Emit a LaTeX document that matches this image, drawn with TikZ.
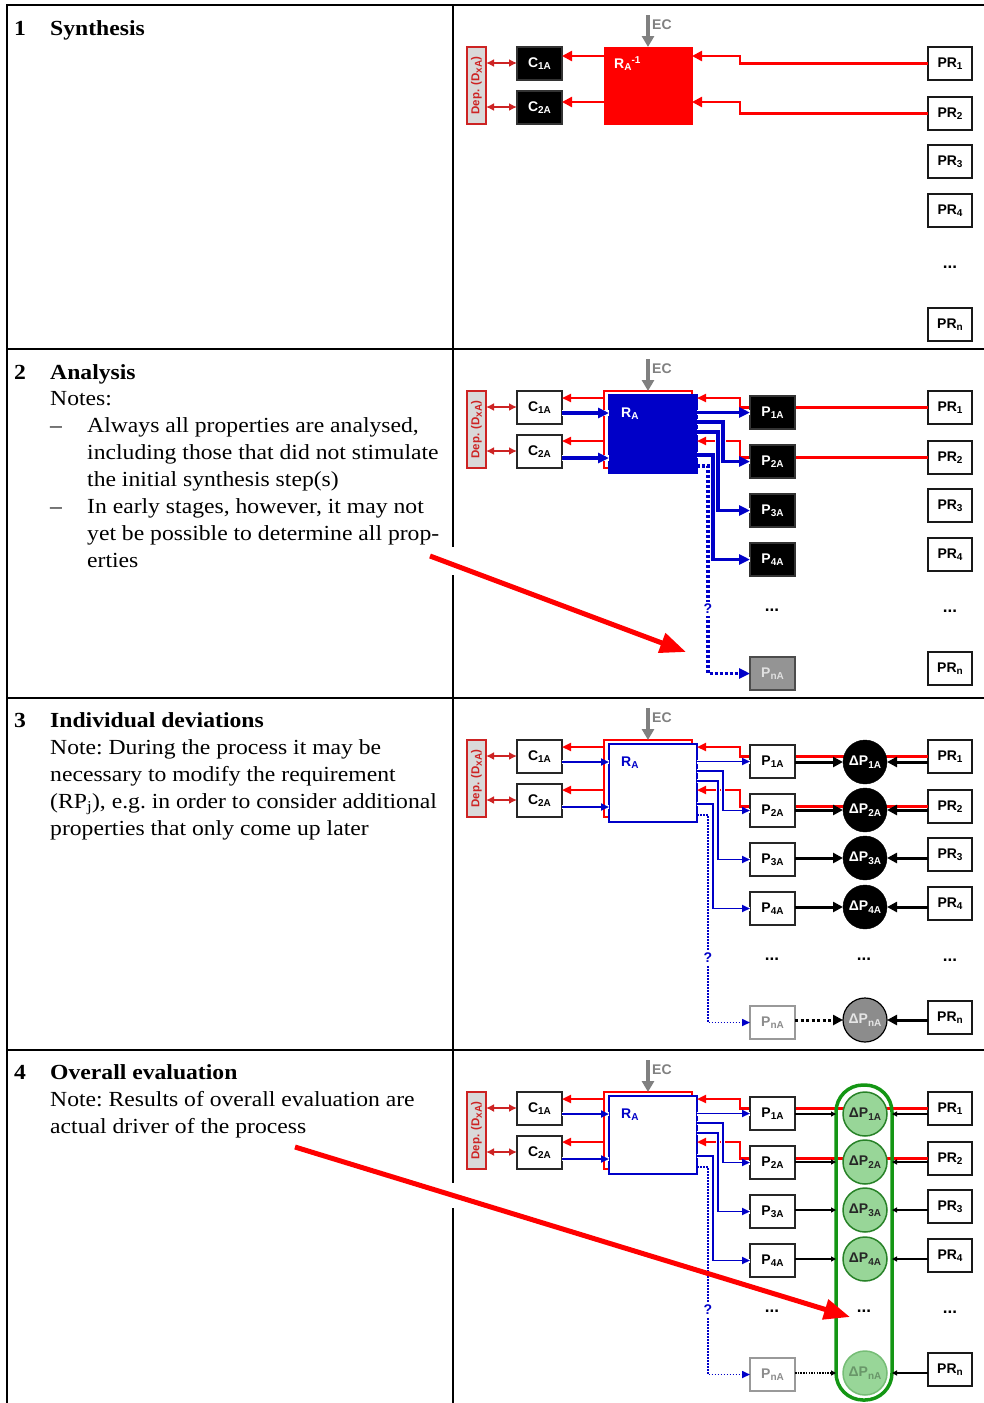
\documentclass[tikz,border=0pt]{standalone}
\usepackage{fontspec}
\setmainfont{Liberation Serif}[FakeStretch=1.1]
\setsansfont{Liberation Sans}
\usetikzlibrary{arrows.meta}
\definecolor{myred}{RGB}{255,0,0}
\definecolor{depred}{RGB}{205,35,35}
\definecolor{myblue}{RGB}{0,0,200}
\definecolor{ecgray}{RGB}{128,128,128}
\definecolor{dgreen}{RGB}{20,150,20}
\definecolor{lgreen}{RGB}{152,214,152}
\definecolor{cgreen}{RGB}{40,130,40}
\definecolor{ngreen}{RGB}{105,150,105}
\newcommand\sbs[1]{\raisebox{-2.5pt}{\fontsize{10}{10}\selectfont #1}}
\newcommand\sps[1]{\raisebox{5pt}{\fontsize{10}{10}\selectfont #1}}
\newcommand\ltxt{\fontsize{21.5}{27}\selectfont\frenchspacing}
\tikzset{
  tbl/.style={line width=2pt, black},
  txt/.style={font=\ltxt, anchor=base west, inner sep=0pt},
  btxt/.style={font=\ltxt\bfseries, anchor=base west, inner sep=0pt},
  lbl/.style={font=\sffamily\bfseries\fontsize{14}{14}\selectfont, inner sep=0pt},
  dots/.style={font=\sffamily\bfseries\fontsize{17}{17}\selectfont, inner sep=0pt},
  boxbase/.style={lbl, rectangle, minimum width=45pt, minimum height=33pt, anchor=north west, line width=1.5pt, outer sep=0pt},
  bkbox/.style={boxbase, fill=black, draw=black!80, text=white},
  whbox/.style={boxbase, fill=white, draw=black!85, text=black},
  grbox/.style={boxbase, fill=black!42, draw=black!70, text=black!12},
  gwbox/.style={boxbase, fill=white, draw=black!40, text=black!45},
  prbox/.style={boxbase, minimum width=44pt, fill=white, draw=black!90},
  depbox/.style={rectangle, anchor=north west, minimum width=19pt, minimum height=77pt, fill=black!15, draw=depred, line width=1.3pt, inner sep=0pt, outer sep=0pt},
  deptxt/.style={rotate=90, text=depred, font=\sffamily\bfseries\fontsize{11.5}{11.5}\selectfont, inner sep=0pt},
  deparr/.style={depred, line width=1.8pt, {Latex[length=8pt,width=8pt]}-{Latex[length=8pt,width=8pt]}},
  ecarr/.style={draw=ecgray, line width=3.2pt, -{Triangle[length=11pt,width=12pt]}},
  ectxt/.style={lbl, text=ecgray, anchor=west},
  redarr/.style={draw=myred, line width=2.4pt, -{Triangle[length=10pt,width=10pt]}},
  redthin/.style={draw=myred, line width=2.1pt, -{Triangle[length=9pt,width=8pt]}},
  bluethick/.style={draw=myblue, line width=3.2pt, -{Triangle[length=11pt,width=10pt]}, preaction={draw=white, line width=5.5pt, -}},
  bluethickdot/.style={draw=myblue, line width=3.2pt, dash pattern=on 3pt off 2pt, -{Triangle[length=11pt,width=10pt]}},
  bluethin/.style={draw=myblue, line width=1.9pt, -{Triangle[length=8pt,width=7pt]}, preaction={draw=white, line width=4pt, -}},
  bluethindot/.style={draw=myblue, line width=1.6pt, dash pattern=on 1.5pt off 1.5pt, -{Triangle[length=8pt,width=7pt]}},
  framebox/.style={rectangle, draw=myred, line width=2pt, minimum width=88pt, minimum height=77pt, outer sep=0pt, anchor=north west},
  rablue/.style={rectangle, fill=myblue, draw=myblue, line width=2pt, minimum width=88pt, minimum height=78pt, outer sep=0pt, anchor=north west},
  rawhite/.style={rectangle, fill=white, draw=myblue, line width=2pt, minimum width=88pt, minimum height=78pt, outer sep=0pt, anchor=north west},
  qmark/.style={lbl, text=myblue, fill=white, inner sep=2pt},
  dcirc/.style={lbl, circle, minimum size=44pt, inner sep=0pt, outer sep=0pt},
  dblk/.style={dcirc, fill=black, draw=black, text=white},
  dgry/.style={dcirc, fill=black!45, draw=black, line width=1.2pt, text=black!10},
  dgrn/.style={dcirc, fill=lgreen, draw=cgreen, line width=1.5pt, text=black!85},
  dgrnn/.style={dcirc, fill=lgreen, draw=lgreen!70!cgreen, line width=1.5pt, text=ngreen},
  blk/.style={draw=black, line width=3pt, -{Triangle[length=10pt,width=10pt]}},
  blkdot/.style={draw=black, line width=3pt, dash pattern=on 3pt off 2.5pt, -{Triangle[length=10pt,width=10pt]}},
  blkthin/.style={draw=black, line width=1.4pt, -{Triangle[length=5pt,width=5pt]}},
  blkthindot/.style={draw=black, line width=1.4pt, dash pattern=on 1.5pt off 1.2pt, -{Triangle[length=5pt,width=5pt]}},
  stadium/.style={rectangle, draw=dgreen, line width=3.5pt, rounded corners=27pt, minimum width=56pt, minimum height=315pt, anchor=north west, inner sep=0pt, outer sep=0pt},
  bigarr/.style={draw=myred, line width=5pt, -{Triangle[length=26pt,width=20pt]}}
}
% common parts of every panel
\newcommand\Common[3]{%
  \node[depbox] (dep#2) at (467,#1+42) {};
  \node[deptxt] (dept#2) at (dep#2.center) {Dep. (D\sbs{xA})};
  \node[#3] (ca#2) at (517,#1+42) {C\sbs{1A}};
  \node[#3] (cb#2) at (517,#1+86) {C\sbs{2A}};
  \coordinate (da#2) at (486,#1+58);
  \coordinate (db#2) at (486,#1+102);
  \draw[deparr] (da#2) -- (da#2 -| ca#2.west);
  \draw[deparr] (db#2) -- (db#2 -| cb#2.west);
  \coordinate (ect#2) at (648,#1+10);
  \node[ectxt] (ec#2) at (652,#1+20) {EC};
  \node[prbox] (pra#2) at (928,#1+42) {PR\sbs{1}};
  \node[prbox] (prb#2) at (928,#1+92) {PR\sbs{2}};
  \node[prbox] (prc#2) at (928,#1+140) {PR\sbs{3}};
  \node[prbox] (prd#2) at (928,#1+189) {PR\sbs{4}};
  \node[dots] (prdots#2) at (950,#1+262) {...};
  \node[prbox] (prn#2) at (928,#1+303) {PR\sbs{n}};
}
% panels 2-4: #1 Y, #2 suffix, #3 P style, #4 Pn style, #5 RA style, #6 RA label colour, #7 blue style
\newcommand\Lower[7]{%
  \Common{#1}{#2}{whbox}%
  \node[framebox] (fr#2) at (604,#1+42) {};
  \node[#5] (ra#2) at (609,#1+46) {};
  \node[lbl, anchor=base west, text=#6] (ral#2) at (621,#1+68) {R\sbs{A}};
  \coordinate (ka#2) at (740,#1+49);
  \coordinate (kb#2) at (740,#1+92);
  \coordinate (la#2) at (604,#1+49);
  \coordinate (lb#2) at (604,#1+92);
  \draw[redthin] (la#2) -- (la#2 -| ca#2.east);
  \draw[redthin] (lb#2) -- (lb#2 -| cb#2.east);
  \draw[redthin] (pra#2.west) -| (ka#2) -- (ka#2 -| ra#2.east);
  \draw[redthin] (prb#2.west) -| (kb#2) -- (kb#2 -| ra#2.east);
  \draw[ecarr] (ect#2) -- (ect#2 |- fr#2.north);
  \node[#3] (pa#2) at (750,#1+47) {P\sbs{1A}};
  \node[#3] (pb#2) at (750,#1+96) {P\sbs{2A}};
  \node[#3] (pc#2) at (750,#1+145) {P\sbs{3A}};
  \node[#3] (pd#2) at (750,#1+194) {P\sbs{4A}};
  \node[dots] (pdots#2) at (772,#1+261) {...};
  \node[#4] (pn#2) at (750,#1+308) {P\sbs{nA}};
  \coordinate (ba#2) at (562,#1+64);
  \coordinate (bb#2) at (562,#1+109);
  \draw[#7] (ba#2) -- (ba#2 -| ra#2.west);
  \draw[#7] (bb#2) -- (bb#2 -| ra#2.west);
  \draw[#7] (ra#2.east |- pa#2.west) -- (pa#2.west);
  \coordinate (o2#2) at (723,#1+73);
  \coordinate (o3#2) at (718,#1+83);
  \coordinate (o4#2) at (713,#1+106);
  \coordinate (o5#2) at (708,#1+117);
  \draw[#7] (o2#2 -| ra#2.east) -- (o2#2) |- (pb#2.west);
  \draw[#7] (o3#2 -| ra#2.east) -- (o3#2) |- (pc#2.west);
  \draw[#7] (o4#2 -| ra#2.east) -- (o4#2) |- (pd#2.west);
  \draw[#7dot] (o5#2 -| ra#2.east) -- (o5#2) |- (pn#2.west);
  \node[qmark] (q#2) at (708,#1+260) {?};
}
\begin{document}
\begin{tikzpicture}[x=1pt,y=-1pt]
\useasboundingbox (0,0) rectangle (984,1403);
% table
\draw[tbl] (7,5) -- (984,5);
\draw[tbl] (7,349) -- (984,349);
\draw[tbl] (7,698) -- (984,698);
\draw[tbl] (7,1050) -- (984,1050);
\draw[tbl] (7,4) -- (7,1403);
\draw[tbl] (453,4) -- (453,547);
\draw[tbl] (453,575) -- (453,1183);
\draw[tbl] (453,1208) -- (453,1403);

% left texts
\node[btxt] (n1) at (14,35.5) {1};
\node[btxt] (h1) at (50,35.5) {Synthesis};

\node[btxt] (n2) at (14,379.5) {2};
\node[btxt] (h2) at (50,379.5) {Analysis};
\node[txt] (t2a) at (50,405.5) {Notes:};
\node[txt] (d2a) at (50,432.5) {–};
\node[txt] (t2b) at (87,432.5) {Always all properties are analysed,};
\node[txt] (t2c) at (87,459.5) {including those that did not stimulate};
\node[txt] (t2d) at (87,486.5) {the initial synthesis step(s)};
\node[txt] (d2b) at (50,513.5) {–};
\node[txt] (t2e) at (87,513.5) {In early stages, however, it may not};
\node[txt] (t2f) at (87,540.5) {yet be possible to determine all prop-};
\node[txt] (t2g) at (87,567.5) {erties};

\node[btxt] (n3) at (14,727.5) {3};
\node[btxt] (h3) at (50,727.5) {Individual deviations};
\node[txt] (t3a) at (50,754.5) {Note: During the process it may be};
\node[txt] (t3b) at (50,781.5) {necessary to modify the requirement};
\node[txt] (t3c) at (50,808.5) {(RP\textsubscript{j}), e.g. in order to consider additional};
\node[txt] (t3d) at (50,835.5) {properties that only come up later};

\node[btxt] (n4) at (14,1079.5) {4};
\node[btxt] (h4) at (50,1079.5) {Overall evaluation};
\node[txt] (t4a) at (50,1106.5) {Note: Results of overall evaluation are};
\node[txt] (t4b) at (50,1133.5) {actual driver of the process};

% ---------- panel 1 ----------
\Common{5}{a}{bkbox}
\node[rectangle, fill=myred, draw=myred, minimum width=88pt, minimum height=77pt, anchor=north west, outer sep=0pt] (raa) at (604,47) {};
\node[lbl, anchor=base west, text=white] (rala) at (614,68) {R\sbs{A}\sps{-1}};
\draw[ecarr] (ecta) -- (ecta |- raa.north);
\coordinate (kaa) at (740,56);
\coordinate (kba) at (740,102);
\draw[redarr] (praa.west) -| (kaa) -- (kaa -| raa.east);
\draw[redarr] (prba.west) -| (kba) -- (kba -| raa.east);
\coordinate (laa) at (604,56);
\coordinate (lba) at (604,102);
\draw[redarr] (laa) -- (laa -| caa.east);
\draw[redarr] (lba) -- (lba -| cba.east);

% ---------- panel 2 ----------
\Lower{349}{b}{bkbox}{grbox}{rablue}{white}{bluethick}

% ---------- panel 3 ----------
\Lower{698}{c}{whbox}{gwbox}{rawhite}{myblue}{bluethin}
\node[dblk] (dac) at (865,762) {ΔP\sbs{1A}};
\node[dblk] (dbc) at (865,810) {ΔP\sbs{2A}};
\node[dblk] (dcc) at (865,858) {ΔP\sbs{3A}};
\node[dblk] (ddc) at (865,907) {ΔP\sbs{4A}};
\node[dots] (ddotsc) at (864,959) {...};
\node[dgry] (dnc) at (865,1020) {ΔP\sbs{nA}};
\draw[blk] (dac.west -| pac.east) -- (dac.west);
\draw[blk] (dbc.west -| pbc.east) -- (dbc.west);
\draw[blk] (dcc.west -| pcc.east) -- (dcc.west);
\draw[blk] (ddc.west -| pdc.east) -- (ddc.west);
\draw[blkdot] (dnc.west -| pnc.east) -- (dnc.west);
\draw[blk] (dac.east -| prac.west) -- (dac.east);
\draw[blk] (dbc.east -| prbc.west) -- (dbc.east);
\draw[blk] (dcc.east -| prcc.west) -- (dcc.east);
\draw[blk] (ddc.east -| prdc.west) -- (ddc.east);
\draw[blk] (dnc.east -| prnc.west) -- (dnc.east);

% ---------- panel 4 ----------
\Lower{1050}{d}{whbox}{gwbox}{rawhite}{myblue}{bluethin}
\node[dgrn] (dad) at (865,1114) {ΔP\sbs{1A}};
\node[dgrn] (dbd) at (865,1162) {ΔP\sbs{2A}};
\node[dgrn] (dcd) at (865,1210) {ΔP\sbs{3A}};
\node[dgrn] (ddd) at (865,1259) {ΔP\sbs{4A}};
\node[dots] (ddotsd) at (864,1311) {...};
\node[dgrnn] (dnd) at (865,1373) {ΔP\sbs{nA}};
\node[stadium] (stad) at (836,1085) {};
\draw[blkthin] (dad.west -| pad.east) -- (dad.west -| stad.west);
\draw[blkthin] (dbd.west -| pbd.east) -- (dbd.west -| stad.west);
\draw[blkthin] (dcd.west -| pcd.east) -- (dcd.west -| stad.west);
\draw[blkthin] (ddd.west -| pdd.east) -- (ddd.west -| stad.west);
\draw[blkthindot] (dnd.west -| pnd.east) -- (dnd.west -| stad.west);
\draw[blkthin] (dad.east -| prad.west) -- (dad.east -| stad.east);
\draw[blkthin] (dbd.east -| prbd.west) -- (dbd.east -| stad.east);
\draw[blkthin] (dcd.east -| prcd.west) -- (dcd.east -| stad.east);
\draw[blkthin] (ddd.east -| prdd.west) -- (ddd.east -| stad.east);
\draw[blkthin] (dnd.east -| prnd.west) -- (dnd.east -| stad.east);

% big red arrows
\coordinate (bs2) at (430,556);
\coordinate (be2) at (686,652);
\draw[bigarr] (bs2) -- (be2);
\coordinate (bs4) at (295,1147);
\coordinate (be4) at (850,1317);
\draw[bigarr] (bs4) -- (be4);
\end{tikzpicture}
\end{document}
